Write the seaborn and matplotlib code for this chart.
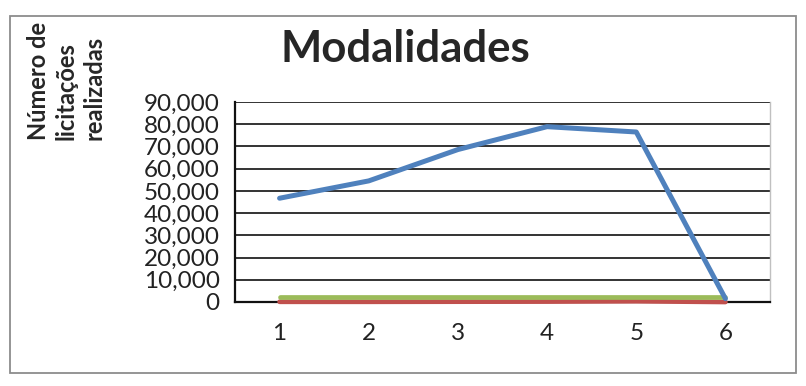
import matplotlib
matplotlib.use('Agg')
import matplotlib.pyplot as plt
import seaborn as sns
import pandas as pd
from matplotlib.patches import Rectangle
from matplotlib.ticker import FuncFormatter

# Data
categories = [1, 2, 3, 4, 5, 6]
serie_azul = [46700, 54500, 68600, 78900, 76500, 1500]
serie_verde = [2200, 2200, 2200, 2200, 2200, 2200]
serie_vermelha = [100, 100, 150, 200, 350, 0]
y_ticks = list(range(0, 90001, 10000))

df = pd.DataFrame({'cat': categories, 'azul': serie_azul,
                   'verde': serie_verde, 'vermelha': serie_vermelha})

sns.set_style('white')
plt.rcParams['font.family'] = ['Lato', 'DejaVu Sans']

fig = plt.figure(figsize=(8.06, 3.86), dpi=100)
ax = fig.add_axes([235 / 806, 1 - 302 / 386, 535 / 806, 200 / 386])

# outer chart frame
fig.patches.append(Rectangle((10 / 806, 1 - 373 / 386), 786 / 806, 357 / 386,
                             transform=fig.transFigure, fill=False,
                             ec='#8c8c8c', lw=1.3))

sns.lineplot(data=df, x='cat', y='vermelha', ax=ax, color='#C0504D', lw=3.4,
             clip_on=False, zorder=4)
sns.lineplot(data=df, x='cat', y='verde', ax=ax, color='#9BBB59', lw=3.4,
             clip_on=False, zorder=5)
sns.lineplot(data=df, x='cat', y='azul', ax=ax, color='#4F81BD', lw=3.6,
             clip_on=False, zorder=6)

ax.set_xlim(0.5, 6.5)
ax.set_ylim(0, 90000)
ax.set_xticks(categories)
ax.set_yticks(y_ticks)
ax.yaxis.set_major_formatter(FuncFormatter(lambda v, p: f'{int(v):,}'))
ax.grid(axis='y', color='#333333', lw=1.4)
ax.set_axisbelow(True)
ax.tick_params(axis='both', length=0, labelsize=17.5, colors='#222222')
ax.tick_params(axis='x', pad=15)
ax.tick_params(axis='y', pad=11)
ax.set_xlabel('')
ax.set_ylabel('')

for s in ['left', 'bottom']:
    ax.spines[s].set_color('#111111')
    ax.spines[s].set_linewidth(1.6)
    ax.spines[s].set_zorder(3)
ax.spines['top'].set_visible(False)
ax.spines['right'].set_color('#c0c0c0')
ax.spines['right'].set_linewidth(1.0)

fig.text(405 / 806, 1 - 62 / 386, 'Modalidades', ha='center', va='baseline',
         fontsize=31.5, fontweight='bold')
fig.text(27 / 806, 1 - 140 / 386, 'Número de\nlicitações\nrealizadas',
         rotation=90, ha='left', va='bottom', multialignment='left',
         fontsize=17, fontweight='bold', linespacing=1.25)

fig.savefig('out.png', dpi=100)
